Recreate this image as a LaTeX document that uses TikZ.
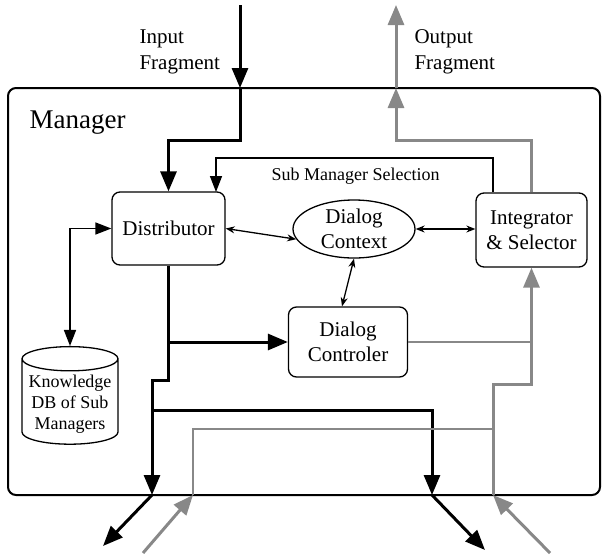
\documentclass[tikz,border=0pt]{standalone}
\usepackage{fontspec}
\setmainfont{Liberation Serif}
\usetikzlibrary{arrows.meta,shapes.geometric}
\definecolor{flowgray}{RGB}{136,136,136}
\tikzset{
	unit/.style={draw, line width=1.3pt, rounded corners=8pt, align=center, font=\fontsize{21}{25}\selectfont},
	flow/.style={line width=3pt, -{Triangle[length=20pt,width=16pt]}},
	gflow/.style={flow, draw=flowgray, line width=3pt},
	gline/.style={draw=flowgray, line width=2.3pt},
	selarrow/.style={line width=1.5pt, -{Triangle[length=16pt,width=12pt]}},
	dbarrow/.style={line width=1.5pt, {Triangle[length=16pt,width=12pt]}-{Triangle[length=16pt,width=12pt]}},
	link/.style={line width=1.3pt, {Stealth[length=9pt,width=7pt]}-{Stealth[length=9pt,width=7pt]}},
}
\begin{document}
\begin{tikzpicture}[x=1pt,y=-1pt]
	\useasboundingbox (0,0) rectangle (602,555);
	% manager frame
	\draw[line width=2pt, rounded corners=8pt] (8,88) rectangle (600,495);
	\node[anchor=base west, font=\fontsize{27}{30}\selectfont] (mgr) at (26,128) {Manager};
	% units
	\node[unit, minimum width=113pt, minimum height=73pt] (dist) at (168.5,228.5) {Distributor};
	\node[draw, ellipse, line width=1.3pt, align=center, inner sep=0pt, minimum width=122pt, minimum height=58pt, font=\fontsize{21}{25}\selectfont] (ctx) at (354,229) {Dialog\\Context};
	\node[unit, minimum width=111pt, minimum height=74pt] (integ) at (531.5,230) {Integrator\\\& Selector};
	\node[unit, minimum width=119pt, minimum height=70pt] (ctrl) at (348,342) {Dialog\\Controler};
	\node[draw, cylinder, shape border rotate=90, aspect=0.27, line width=1.3pt, minimum width=96pt, minimum height=96pt, align=center, font=\fontsize{18}{21}\selectfont] (kdb) at (70,404) {Knowledge\\DB of Sub\\Managers};
	% labels
	\node[anchor=west, align=left, font=\fontsize{21}{26}\selectfont] (inlbl) at (136,52) {Input\\Fragment};
	\node[anchor=west, align=left, font=\fontsize{21}{26}\selectfont] (outlbl) at (411,52) {Output\\Fragment};
	\node[anchor=base west, font=\fontsize{18}{21}\selectfont] (sellbl) at (268,180) {Sub Manager Selection};
	% gates on the frame
	\coordinate (inTop) at (240,5);
	\coordinate (inGate) at (240,88);
	\coordinate (outTop) at (396,5);
	\coordinate (outGate) at (396,88);
	\coordinate (outL) at (152,495);
	\coordinate (outR) at (432,495);
	\coordinate (sinkL) at (103,546);
	\coordinate (sinkR) at (485,550);
	\coordinate (inL) at (193,495);
	\coordinate (inR) at (493,495);
	\coordinate (srcL) at (143,553);
	\coordinate (srcR) at (550,553);
	% input fragment
	\draw[flow] (inTop) -- (inGate);
	\draw[flow] (inGate) -- (inGate |- 0,140) -| (dist.north);
	% sub manager selection
	\draw[selarrow] (integ.north -| 493,0) -- (493,158) -| (216,192);
	% thin links
	\draw[dbarrow] (dist.west) -| (kdb.north);
	\draw[link] (dist.east) -- (ctx.190);
	\draw[link] (ctx.east) -- (ctx.east -| integ.west);
	\draw[link] (ctx.south) -- ([xshift=-6pt]ctrl.north);
	% black flow out of the distributor
	\draw[flow] (dist.south) |- (outL |- 0,380) -- (outL);
	\draw[flow] (dist.south |- ctrl.west) -- (ctrl.west);
	\draw[flow] (outL |- 0,410) -| (outR);
	\draw[flow] (outL) -- (sinkL);
	\draw[flow] (outR) -- (sinkR);
	% gray flow into the integrator
	\draw[gflow] (srcL) -- (inL);
	\draw[gline] (inL) |- (inR |- 0,429);
	\draw[gflow] (srcR) -- (inR);
	\draw[gflow] (inR) -- (inR |- 0,384) -| (integ.south);
	\draw[gline] (ctrl.east) -- (ctrl.east -| integ.south);
	% output fragment
	\draw[gflow] (integ.north) |- (outGate |- 0,140) -- (outGate);
	\draw[gflow] (outGate) -- (outTop);
\end{tikzpicture}
\end{document}
